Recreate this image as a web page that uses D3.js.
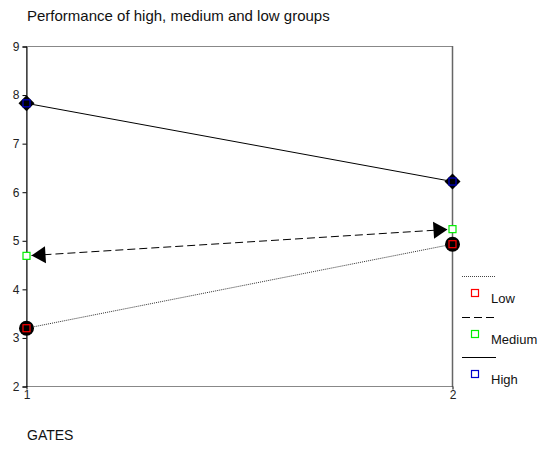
<!DOCTYPE html>
<html><head><meta charset="utf-8">
<script src="https://cdn.jsdelivr.net/npm/d3@7/dist/d3.min.js"></script>
<style>body{margin:0;background:#fff}svg{display:block;font-family:Arial,"Liberation Sans",sans-serif}</style>
</head><body><svg id="c" width="539" height="456"></svg>
<script>
const gates = [1, 2];
const lowValues = [3.2, 4.93];
const mediumValues = [4.69, 5.24];
const highValues = [7.83, 6.22];
const yTicks = [2, 3, 4, 5, 6, 7, 8, 9];
const seriesNames = ["Low", "Medium", "High"];
const seriesColors = ["#ff0000", "#00ee00", "#0000cc"];
const title = "Performance of high, medium and low groups";
const xTitle = "GATES";

const svg = d3.select("#c");
const x = d3.scaleLinear().domain([1, 2]).range([26.5, 452.5]);
const y = d3.scaleLinear().domain([2, 9]).range([386.5, 46.5]);

// frame
svg.append("rect").attr("x", 26.5).attr("y", 46.5).attr("width", 426).attr("height", 340)
  .attr("fill", "none").attr("stroke", "#888").attr("stroke-width", 1);
svg.append("line").attr("x1", 452.5).attr("x2", 452.5).attr("y1", 46).attr("y2", 387)
  .attr("stroke", "#666").attr("stroke-width", 1.5);

const yAxis = d3.axisLeft(y).tickValues(yTicks).tickSize(4).tickPadding(3).tickFormat(d3.format("d"));
const gy = svg.append("g").attr("transform", "translate(26.5,0)").call(yAxis);
gy.select(".domain").attr("stroke", "#000");
gy.selectAll("text").attr("font-size", 12).attr("fill", "#222");

const xAxis = d3.axisBottom(x).tickValues(gates).tickSize(3).tickPadding(1).tickFormat(d3.format("d"));
const gx = svg.append("g").attr("transform", "translate(0,386.5)").call(xAxis);
gx.select(".domain").remove();
gx.selectAll("text").attr("font-size", 12).attr("fill", "#222");

svg.append("text").attr("x", 27).attr("y", 21).attr("font-size", 15).attr("fill", "#111").text(title);
svg.append("text").attr("x", 27).attr("y", 440).attr("font-size", 14).attr("fill", "#111").text(xTitle);

const pts = v => gates.map((g, i) => [x(g), y(v[i])]);

// Low dotted
const lowP = pts(lowValues);
svg.append("line").attr("x1", lowP[0][0]).attr("y1", lowP[0][1]).attr("x2", lowP[1][0]).attr("y2", lowP[1][1])
  .attr("stroke", "#333").attr("stroke-width", 1).attr("stroke-dasharray", "1,1");
// High solid
const highP = pts(highValues);
svg.append("line").attr("x1", highP[0][0]).attr("y1", highP[0][1]).attr("x2", highP[1][0]).attr("y2", highP[1][1])
  .attr("stroke", "#000").attr("stroke-width", 1);
// Medium dashed with arrowheads
const medP = pts(mediumValues);
const dx = medP[1][0] - medP[0][0], dy = medP[1][1] - medP[0][1];
const len = Math.hypot(dx, dy), ux = dx / len, uy = dy / len;
const off = 5, aLen = 14, aW = 8.5;
const tipA = [medP[0][0] + ux * off, medP[0][1] + uy * off];
const tipB = [medP[1][0] - ux * off, medP[1][1] - uy * off];
svg.append("line").attr("x1", tipA[0]).attr("y1", tipA[1]).attr("x2", tipB[0]).attr("y2", tipB[1])
  .attr("stroke", "#000").attr("stroke-width", 1).attr("stroke-dasharray", "8,4");
function arrow(tip, dirx, diry) {
  const bx = tip[0] - dirx * aLen, by = tip[1] - diry * aLen;
  const px = -diry, py = dirx;
  return [[tip[0], tip[1]], [bx + px * aW, by + py * aW], [bx - px * aW, by - py * aW]];
}
[arrow(tipA, -ux, -uy), arrow(tipB, ux, uy)].forEach(p => {
  svg.append("path").attr("d", d3.line()(p) + "Z").attr("fill", "#000");
});

// Low circles
svg.selectAll(".lowc").data(lowP).enter().append("circle")
  .attr("cx", d => d[0]).attr("cy", d => d[1]).attr("r", 7.5).attr("fill", "#000");
// High diamonds
svg.selectAll(".hid").data(highP).enter().append("path")
  .attr("d", d => `M${d[0]-8},${d[1]}L${d[0]},${d[1]-8}L${d[0]+8},${d[1]}L${d[0]},${d[1]+8}Z`).attr("fill", "#000");

// colored squares
[lowP, medP, highP].forEach((p, si) => {
  p.forEach(d => {
    svg.append("rect").attr("x", d[0] - 3.5).attr("y", d[1] - 3.5).attr("width", 7).attr("height", 7)
      .attr("fill", si === 1 ? "#fff" : "none").attr("stroke", seriesColors[si]).attr("stroke-width", 1.2);
  });
});

// legend
const dashes = ["1,1", "8,4", null];
const legY = [276, 317, 357];
seriesNames.forEach((n, i) => {
  const ln = svg.append("line").attr("x1", 462).attr("x2", 496).attr("y1", legY[i] + 0.5).attr("y2", legY[i] + 0.5)
    .attr("stroke", i === 0 ? "#444" : "#000");
  if (dashes[i]) ln.attr("stroke-dasharray", dashes[i]);
  svg.append("rect").attr("x", 471.5).attr("y", legY[i] + 13.5).attr("width", 7).attr("height", 7)
    .attr("fill", "none").attr("stroke", seriesColors[i]).attr("stroke-width", 1.2);
  svg.append("text").attr("x", 491).attr("y", legY[i] + 27).attr("font-size", 13).attr("fill", "#111").text(n);
});
</script></body></html>
